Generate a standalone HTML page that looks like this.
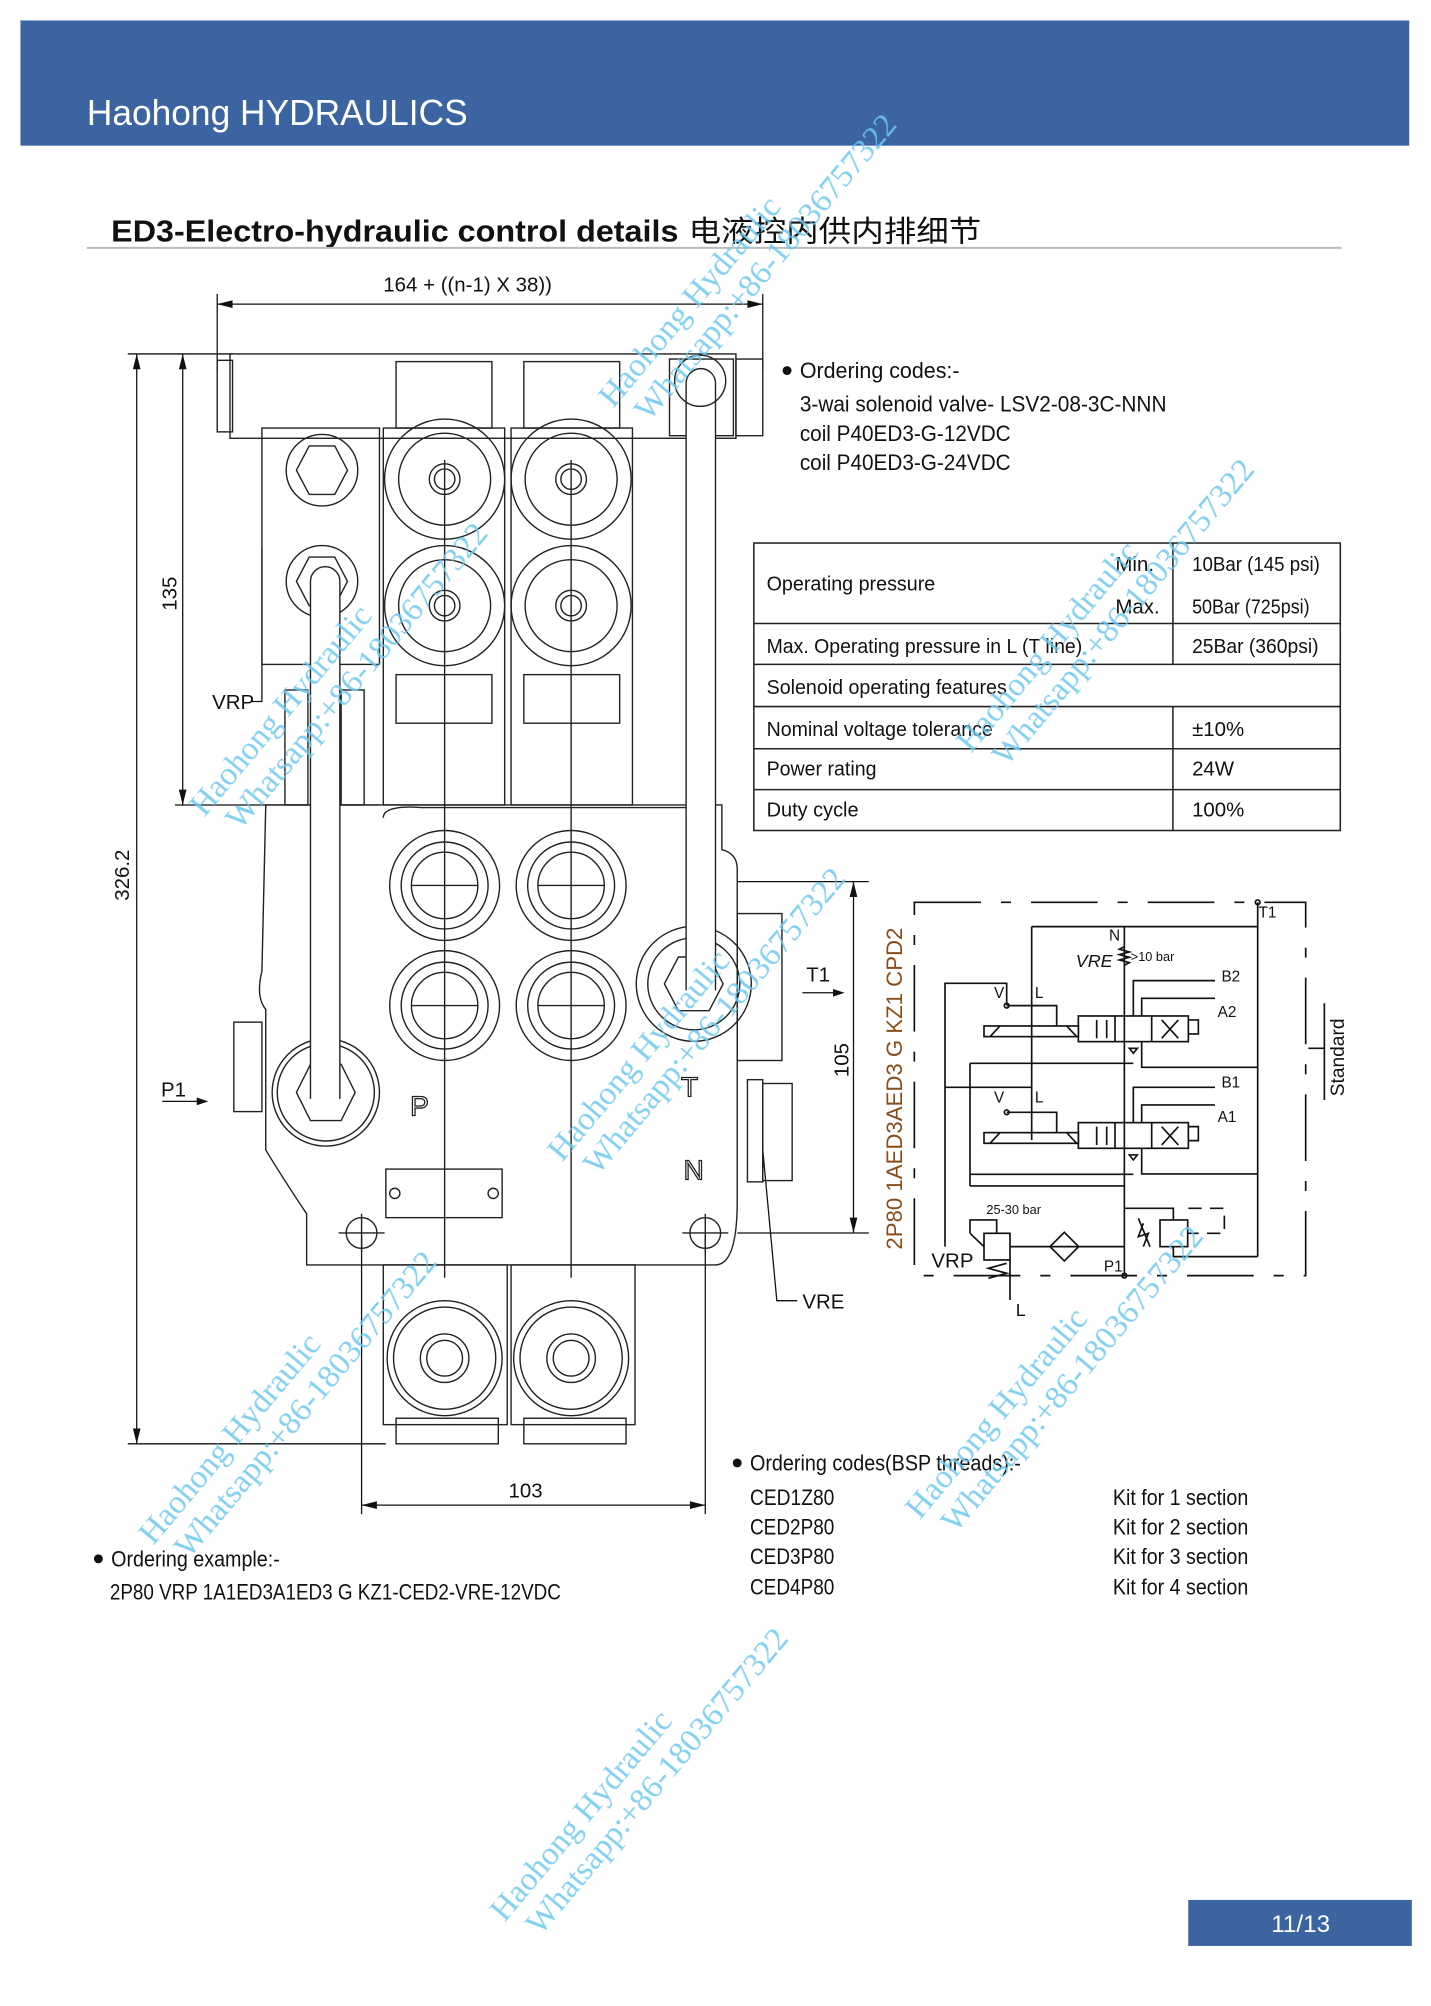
<!DOCTYPE html>
<html><head><meta charset="utf-8"><style>
html,body{margin:0;padding:0;background:#fff;}
svg{display:block;}
text{font-family:"Liberation Sans","Noto Sans CJK SC",sans-serif;}
.wm text{font-family:"Liberation Serif",serif;}
</style></head><body>
<svg width="1431" height="2006" viewBox="0 0 1120 1570" xmlns="http://www.w3.org/2000/svg">
<rect x="16" y="16" width="1087" height="98" fill="#3b64a0"/>
<text x="68" y="98" font-size="28" fill="#fff" textLength="298" lengthAdjust="spacingAndGlyphs">Haohong HYDRAULICS</text>
<text x="87" y="189" font-size="24" font-weight="bold" fill="#111" textLength="444" lengthAdjust="spacingAndGlyphs">ED3-Electro-hydraulic control details</text>
<text x="539" y="189" font-size="23" fill="#111" textLength="229" lengthAdjust="spacingAndGlyphs">电液控内供内排细节</text>
<line x1="68" y1="194" x2="1050" y2="194" stroke="#bbb" stroke-width="1.5"/>

<g stroke="#111" stroke-width="1" fill="none">
<line x1="170" y1="238" x2="597" y2="238"/>
<line x1="170" y1="230" x2="170" y2="290"/><line x1="597" y1="230" x2="597" y2="290"/>
<line x1="107" y1="277" x2="107" y2="1130"/>
<line x1="143" y1="277" x2="143" y2="630"/>
<line x1="100" y1="277" x2="182" y2="277"/>
<line x1="137" y1="630" x2="297" y2="630"/>
<line x1="100" y1="1130" x2="302" y2="1130"/>
<line x1="283" y1="1178" x2="552" y2="1178"/>
<line x1="283" y1="968" x2="283" y2="1185"/><line x1="552" y1="968" x2="552" y2="1185"/>
<line x1="668" y1="690" x2="668" y2="965"/>
<line x1="577" y1="690" x2="680" y2="690"/><line x1="577" y1="965" x2="680" y2="965"/>
<path d="M197 549 H205 V430"/>
<path d="M597 900 L608 1018 H624"/>
<line x1="127" y1="862" x2="155" y2="862"/>
<line x1="628" y1="777" x2="652" y2="777"/>
</g>
<g fill="#111">
<path d="M170 238 l12 -3 v6z"/><path d="M597 238 l-12 -3 v6z"/>
<path d="M107 277 l-3 12 h6z"/><path d="M107 1130 l-3 -12 h6z"/>
<path d="M143 277 l-3 12 h6z"/><path d="M143 630 l-3 -12 h6z"/>
<path d="M283 1178 l12 -3 v6z"/><path d="M552 1178 l-12 -3 v6z"/>
<path d="M668 690 l-3 12 h6z"/><path d="M668 965 l-3 -12 h6z"/>
<path d="M163 862 l-9 -3 v6z"/><path d="M661 777 l-9 -3 v6z"/>
</g>
<g font-size="16" fill="#111">
<text x="300" y="228">164 + ((n-1) X 38))</text>
<text x="398" y="1172">103</text>
<text transform="translate(101,705) rotate(-90)">326.2</text>
<text transform="translate(138,478) rotate(-90)">135</text>
<text transform="translate(664,843) rotate(-90)">105</text>
<text x="166" y="555">VRP</text>
<text x="628" y="1024">VRE</text>
<text x="126" y="858">P1</text>
<text x="631" y="768">T1</text>
</g>

<g stroke="#222" stroke-width="1.1" fill="none">
<rect x="170" y="282" width="12" height="56"/>
<rect x="180" y="277" width="396" height="66"/>
<rect x="524" y="281" width="50" height="60"/>
<rect x="576" y="281" width="21" height="60"/>
<rect x="205" y="335" width="92" height="185"/>
<path d="M232 368 l10 -19 h20 l10 19 l-10 19 h-20z"/><circle cx="252" cy="368" r="28"/>
<circle cx="252" cy="455" r="28"/><path d="M232 455 l10 -19 h20 l10 19 l-10 19 h-20z"/>
<rect x="310" y="283" width="75" height="52"/><rect x="410" y="283" width="75" height="52"/>
<rect x="300" y="335" width="95" height="295"/><rect x="400" y="335" width="95" height="295"/>
<rect x="310" y="528" width="75" height="38"/><rect x="410" y="528" width="75" height="38"/>
<circle cx="348" cy="375" r="47"/><circle cx="348" cy="375" r="36"/><circle cx="348" cy="375" r="12"/><circle cx="348" cy="375" r="8"/>
<circle cx="447" cy="375" r="47"/><circle cx="447" cy="375" r="36"/><circle cx="447" cy="375" r="12"/><circle cx="447" cy="375" r="8"/>
<circle cx="348" cy="474" r="47"/><circle cx="348" cy="474" r="36"/><circle cx="348" cy="474" r="12"/><circle cx="348" cy="474" r="8"/>
<circle cx="447" cy="474" r="47"/><circle cx="447" cy="474" r="36"/><circle cx="447" cy="474" r="12"/><circle cx="447" cy="474" r="8"/>
<line x1="348" y1="360" x2="348" y2="1000"/><line x1="447" y1="360" x2="447" y2="1000"/>
<rect x="223" y="540" width="18" height="90"/><rect x="267" y="540" width="18" height="90"/>
<path d="M208 630 H565 V665 Q577 668 577 680 V940 Q577 990 560 990 H240 V950 Q220 920 208 900 V790 Q200 780 205 760 Z"/>
<path d="M300 640 Q300 630 330 632 H560"/>
<circle cx="348" cy="693" r="43"/><circle cx="348" cy="693" r="34"/><circle cx="348" cy="693" r="26"/><line x1="322" y1="693" x2="374" y2="693"/>
<circle cx="447" cy="693" r="43"/><circle cx="447" cy="693" r="34"/><circle cx="447" cy="693" r="26"/><line x1="421" y1="693" x2="473" y2="693"/>
<circle cx="348" cy="787" r="43"/><circle cx="348" cy="787" r="34"/><circle cx="348" cy="787" r="26"/><line x1="322" y1="787" x2="374" y2="787"/>
<circle cx="447" cy="787" r="43"/><circle cx="447" cy="787" r="34"/><circle cx="447" cy="787" r="26"/><line x1="421" y1="787" x2="473" y2="787"/>
<circle cx="543" cy="770" r="45"/><circle cx="543" cy="770" r="36"/><path d="M520 770 l11 -21 h24 l11 21 l-11 21 h-24z"/>
<circle cx="255" cy="855" r="42"/><circle cx="255" cy="855" r="38"/><path d="M232 855 l11 -22 h24 l11 22 l-11 22 h-24z"/>
<rect x="183" y="800" width="22" height="70"/>
<rect x="577" y="715" width="35" height="115"/>
<rect x="585" y="845" width="12" height="80"/><rect x="597" y="848" width="23" height="76"/>
<rect x="302" y="915" width="91" height="38"/><circle cx="309" cy="934" r="4"/><circle cx="386" cy="934" r="4"/>
<circle cx="283" cy="965" r="12"/><line x1="265" y1="965" x2="301" y2="965"/><line x1="283" y1="950" x2="283" y2="980"/>
<circle cx="552" cy="965" r="12"/><line x1="534" y1="965" x2="570" y2="965"/><line x1="552" y1="950" x2="552" y2="980"/>
<rect x="300" y="990" width="97" height="125"/><rect x="400" y="990" width="97" height="125"/>
<rect x="310" y="1110" width="80" height="20"/><rect x="410" y="1110" width="80" height="20"/>
<circle cx="348" cy="1063" r="45"/><circle cx="348" cy="1063" r="40"/><circle cx="348" cy="1063" r="19"/><circle cx="348" cy="1063" r="14"/>
<circle cx="447" cy="1063" r="45"/><circle cx="447" cy="1063" r="40"/><circle cx="447" cy="1063" r="19"/><circle cx="447" cy="1063" r="14"/>
<path d="M243 860 V455 A11 11 0 0 1 266 455 V860" fill="#fff"/>
<path d="M537 775 V300 A11 11 0 0 1 560 300 V775" fill="#fff"/>
<circle cx="548" cy="298" r="20"/>
</g>
<g font-size="22" fill="none" stroke="#222" stroke-width="1"><text x="321" y="873">P</text><text x="533" y="858">T</text><text x="535" y="923">N</text></g>

<g font-size="17" fill="#111">
<circle cx="616" cy="290" r="3.5"/>
<text x="626" y="296" textLength="125" lengthAdjust="spacingAndGlyphs">Ordering codes:-</text>
<text x="626" y="322" textLength="287" lengthAdjust="spacingAndGlyphs">3-wai solenoid valve- LSV2-08-3C-NNN</text>
<text x="626" y="345" textLength="165" lengthAdjust="spacingAndGlyphs">coil P40ED3-G-12VDC</text>
<text x="626" y="368" textLength="165" lengthAdjust="spacingAndGlyphs">coil P40ED3-G-24VDC</text>
</g>

<g stroke="#222" stroke-width="1.2" fill="none">
<rect x="590" y="425" width="459" height="225"/>
<line x1="590" y1="488" x2="1049" y2="488"/><line x1="590" y1="520" x2="1049" y2="520"/>
<line x1="590" y1="553" x2="1049" y2="553"/><line x1="590" y1="586" x2="1049" y2="586"/>
<line x1="590" y1="618" x2="1049" y2="618"/>
<line x1="918" y1="425" x2="918" y2="520"/><line x1="918" y1="553" x2="918" y2="650"/>
</g>
<g font-size="16" fill="#111">
<text x="600" y="462" textLength="132" lengthAdjust="spacingAndGlyphs">Operating pressure</text>
<text x="873" y="447">Min.</text><text x="873" y="480">Max.</text>
<text x="933" y="447" textLength="100" lengthAdjust="spacingAndGlyphs">10Bar (145 psi)</text><text x="933" y="480" textLength="92" lengthAdjust="spacingAndGlyphs">50Bar (725psi)</text>
<text x="600" y="511" textLength="247" lengthAdjust="spacingAndGlyphs">Max. Operating pressure in L (T line)</text><text x="933" y="511" textLength="99" lengthAdjust="spacingAndGlyphs">25Bar (360psi)</text>
<text x="600" y="543" textLength="188" lengthAdjust="spacingAndGlyphs">Solenoid operating features</text>
<text x="600" y="576" textLength="177" lengthAdjust="spacingAndGlyphs">Nominal voltage tolerance</text><text x="933" y="576">±10%</text>
<text x="600" y="607" textLength="86" lengthAdjust="spacingAndGlyphs">Power rating</text><text x="933" y="607">24W</text>
<text x="600" y="639" textLength="72" lengthAdjust="spacingAndGlyphs">Duty cycle</text><text x="933" y="639">100%</text>
</g>

<text transform="translate(706,978) rotate(-90)" font-size="17" fill="#8a4d18" textLength="252" lengthAdjust="spacingAndGlyphs">2P80 1AED3AED3 G KZ1 CPD2</text>
<g transform="translate(673.1,688.7) scale(0.2609)" stroke="#111" stroke-width="5" fill="none">
<path d="M163 67 H1337 V1187 H163 Z" stroke-dasharray="200,60,30,60"/>
<circle cx="1193" cy="67" r="7"/>
<line x1="1193" y1="67" x2="1193" y2="1130"/>
<line x1="515" y1="140" x2="1193" y2="140"/>
<line x1="793" y1="140" x2="793" y2="1187"/>
<path d="M793 200 l-15 8 l30 8 l-30 8 l30 8 l-30 8 l30 8 l-15 8"/>
<path d="M515 140 V780"/>
<path d="M255 1100 V310 H440 V375"/>
<path d="M255 622 H515"/>
<path d="M330 550 H820 M330 550 V918 M330 883 H820 M330 918 H793"/>
<g>
<rect x="655" y="408" width="330" height="77"/><line x1="765" y1="408" x2="765" y2="485"/><line x1="875" y1="408" x2="875" y2="485"/>
<path d="M985 420 H1015 V462 H985"/>
<rect x="372" y="438" width="283" height="32"/><path d="M390 470 L420 438 M620 438 L650 470"/>
<circle cx="440" cy="377" r="7"/><path d="M440 377 H590 V438"/>
<path d="M820 408 V302 H1065 M845 408 V355 H1065"/>
<path d="M845 485 V562 H1193"/>
<path d="M710 420 V475 M740 420 V475 M905 420 L955 475 M955 420 L905 475"/>
<path d="M808 505 l12 15 l12 -15z"/>
</g>
<g transform="translate(0,320)">
<rect x="655" y="408" width="330" height="77"/><line x1="765" y1="408" x2="765" y2="485"/><line x1="875" y1="408" x2="875" y2="485"/>
<path d="M985 420 H1015 V462 H985"/>
<rect x="372" y="438" width="283" height="32"/><path d="M390 470 L420 438 M620 438 L650 470"/>
<circle cx="440" cy="377" r="7"/><path d="M440 377 H590 V438"/>
<path d="M820 408 V302 H1065 M845 408 V355 H1065"/>
<path d="M845 485 V562 H1193"/>
<path d="M710 420 V475 M740 420 V475 M905 420 L955 475 M955 420 L905 475"/>
<path d="M808 505 l12 15 l12 -15z"/>
</g>
<path d="M793 985 H940 V1020"/>
<rect x="900" y="1020" width="83" height="80"/>
<path d="M985 985 H1093 V1060 H985" stroke-dasharray="40,25"/>
<path d="M940 1100 V1130 H1193"/>
<path d="M835 1015 L870 1100 M850 1030 l-15 40 l30 -10 l-15 40"/>
<path d="M613 1057 L656 1100 L613 1143 L570 1100 Z"/>
<line x1="450" y1="1100" x2="793" y2="1100"/>
<rect x="372" y="1060" width="78" height="80"/>
<path d="M330 1060 V1020 H410 V1060 M330 1060 L372 1100"/>
<path d="M440 1150 L385 1165 L440 1180 L385 1195 M450 1140 V1260"/>
<circle cx="793" cy="1187" r="7"/>
<path d="M1393 370 V660 M1345 505 H1393"/>
</g>
<g font-size="12" fill="#111">
<text x="985" y="718">T1</text>
<text x="868" y="736">N</text>
<text x="842" y="757" font-style="italic" font-size="14">VRE</text>
<text x="885" y="752" font-size="10">&gt;10 bar</text>
<text x="956" y="768">B2</text><text x="953" y="796">A2</text>
<text x="956" y="851">B1</text><text x="953" y="878">A1</text>
<text x="778" y="781">V</text><text x="810" y="781">L</text>
<text x="778" y="863">V</text><text x="810" y="863">L</text>
<text x="772" y="950" font-size="10">25-30 bar</text>
<text x="729" y="992" font-size="16">VRP</text>
<text x="864" y="995">P1</text>
<text x="795" y="1030" font-size="14">L</text>
<text transform="translate(1052,858) rotate(-90)" font-size="15">Standard</text>
</g>

<g font-size="17" fill="#111">
<circle cx="577" cy="1145" r="3.5"/>
<text x="587" y="1151" textLength="212" lengthAdjust="spacingAndGlyphs">Ordering codes(BSP threads):-</text>
<text x="587" y="1178" textLength="66" lengthAdjust="spacingAndGlyphs">CED1Z80</text><text x="587" y="1201" textLength="66" lengthAdjust="spacingAndGlyphs">CED2P80</text><text x="587" y="1224" textLength="66" lengthAdjust="spacingAndGlyphs">CED3P80</text><text x="587" y="1248" textLength="66" lengthAdjust="spacingAndGlyphs">CED4P80</text>
<text x="871" y="1178" textLength="106" lengthAdjust="spacingAndGlyphs">Kit for 1 section</text><text x="871" y="1201" textLength="106" lengthAdjust="spacingAndGlyphs">Kit for 2 section</text><text x="871" y="1224" textLength="106" lengthAdjust="spacingAndGlyphs">Kit for 3 section</text><text x="871" y="1248" textLength="106" lengthAdjust="spacingAndGlyphs">Kit for 4 section</text>
<circle cx="77" cy="1220" r="3.5"/>
<text x="87" y="1226" textLength="132" lengthAdjust="spacingAndGlyphs">Ordering example:-</text>
<text x="86" y="1252" textLength="353" lengthAdjust="spacingAndGlyphs">2P80 VRP 1A1ED3A1ED3 G KZ1-CED2-VRE-12VDC</text>
</g>
<rect x="930" y="1487" width="175" height="36" fill="#3b64a0"/>
<text x="1018" y="1512" font-size="19" fill="#fff" text-anchor="middle">11/13</text>

<g class="wm" font-size="26" fill="#6cc8f0" opacity="0.85">
<g transform="translate(480,320) rotate(-50)"><text>Haohong Hydraulic</text><text x="10" y="28">Whatsapp:+86-18036757322</text></g>
<g transform="translate(160,640) rotate(-50)"><text>Haohong Hydraulic</text><text x="10" y="28">Whatsapp:+86-18036757322</text></g>
<g transform="translate(760,590) rotate(-50)"><text>Haohong Hydraulic</text><text x="10" y="28">Whatsapp:+86-18036757322</text></g>
<g transform="translate(440,910) rotate(-50)"><text>Haohong Hydraulic</text><text x="10" y="28">Whatsapp:+86-18036757322</text></g>
<g transform="translate(120,1210) rotate(-50)"><text>Haohong Hydraulic</text><text x="10" y="28">Whatsapp:+86-18036757322</text></g>
<g transform="translate(720,1190) rotate(-50)"><text>Haohong Hydraulic</text><text x="10" y="28">Whatsapp:+86-18036757322</text></g>
<g transform="translate(395,1505) rotate(-50)"><text>Haohong Hydraulic</text><text x="10" y="28">Whatsapp:+86-18036757322</text></g>
</g>
</svg>
</body></html>
